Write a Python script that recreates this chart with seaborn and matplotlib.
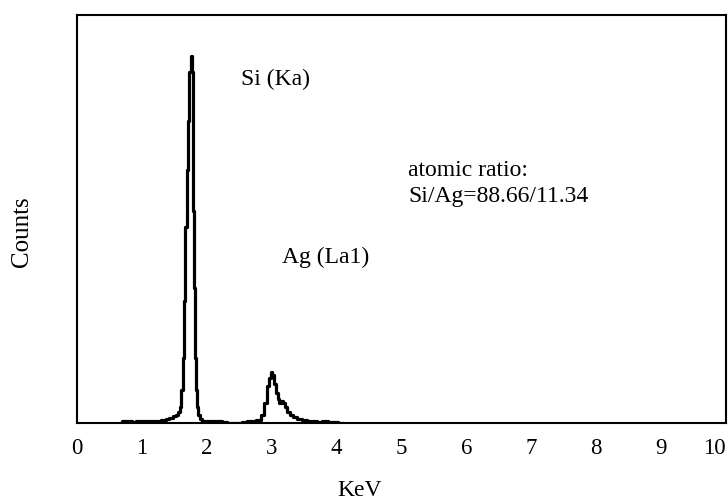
import matplotlib
matplotlib.use("Agg")
import matplotlib.pyplot as plt
import seaborn as sns
import pandas as pd

# Spectrum data (energy in keV, counts in arbitrary units)
energy = [0.68, 0.72, 0.80, 0.88, 0.95, 1.02, 1.10, 1.18, 1.26, 1.34, 1.40, 1.45,
          1.50, 1.54, 1.57, 1.60, 1.62, 1.64, 1.66, 1.68, 1.70, 1.72, 1.74, 1.76,
          1.78, 1.79, 1.80, 1.81, 1.82, 1.84, 1.86, 1.88, 1.90, 1.94, 2.00, 2.10,
          2.20, 2.26, 2.35, 2.50, 2.58, 2.65, 2.72, 2.80, 2.86, 2.90, 2.94, 2.97,
          3.00, 3.02, 3.05, 3.08, 3.10, 3.13, 3.16, 3.19, 3.22, 3.26, 3.30, 3.36,
          3.42, 3.50, 3.58, 3.66, 3.74, 3.82, 3.90, 3.98, 4.05, 4.10]
counts = [0, 4, 5, 3, 4, 6, 4, 5, 6, 8, 10, 13,
          16, 20, 26, 40, 80, 160, 300, 480, 620, 740, 860, 900,
          860, 700, 520, 330, 160, 80, 40, 20, 10, 6, 5, 4,
          4, 3, 0, 0, 3, 6, 5, 8, 20, 50, 90, 110,
          125, 118, 95, 74, 60, 50, 54, 48, 38, 28, 20, 14,
          10, 8, 5, 4, 3, 4, 2, 3, 1, 0]

xticks = [0, 1, 2, 3, 4, 5, 6, 7, 8, 9, 10]
xlabel = "KeV"
ylabel = "Counts"
annotations = [("Si (Ka)", 2.53, 841), ("Ag (La1)", 3.16, 407),
               ("atomic ratio:", 5.10, 618), ("Si/Ag=88.66/11.34", 5.10, 554)]

df = pd.DataFrame({"energy": energy, "counts": counts})

sns.set_style("white")
plt.rcParams['font.family'] = ['Liberation Serif', 'DejaVu Serif']
plt.rcParams['text.color'] = 'black'
plt.rcParams['axes.labelcolor'] = 'black'
plt.rcParams['xtick.color'] = 'black'
plt.rcParams['ytick.color'] = 'black'

fig = plt.figure(figsize=(7.28, 5.03), dpi=100)
ax = fig.add_axes([77/728, (503-423)/503, (726-77)/728, (423-15)/503])

sns.lineplot(data=df, x="energy", y="counts", ax=ax, color="black", linewidth=2.3,
             drawstyle="steps-mid")

ax.set_xlim(0, 10)
ax.set_ylim(0, 1000)
ax.set_xticks(xticks)
ax.set_xticklabels([str(t) for t in xticks], fontsize=16.5, color="black")
labels = ax.get_xticklabels()
labels[-1].set_horizontalalignment("right")
ax.set_yticks([])
ax.tick_params(axis="x", direction="inout", length=9, width=1.5, color="black", pad=6)
for s in ax.spines.values():
    s.set_visible(True)
    s.set_color("black")
    s.set_linewidth(1.5)
ax.set_xlabel(xlabel, fontsize=17, color="black")
ax.set_ylabel(ylabel, fontsize=18, color="black")
ax.xaxis.label.set_verticalalignment("center")
ax.yaxis.label.set_verticalalignment("center")
ax.xaxis.set_label_coords((360-77)/649, -(490-423)/408)
ax.yaxis.set_label_coords(-(77-22)/649, (423-232)/408)

for txt, x, y in annotations:
    ax.text(x, y, txt, fontsize=17, ha="left", va="center", color="black")

fig.savefig("out.png", dpi=100)
